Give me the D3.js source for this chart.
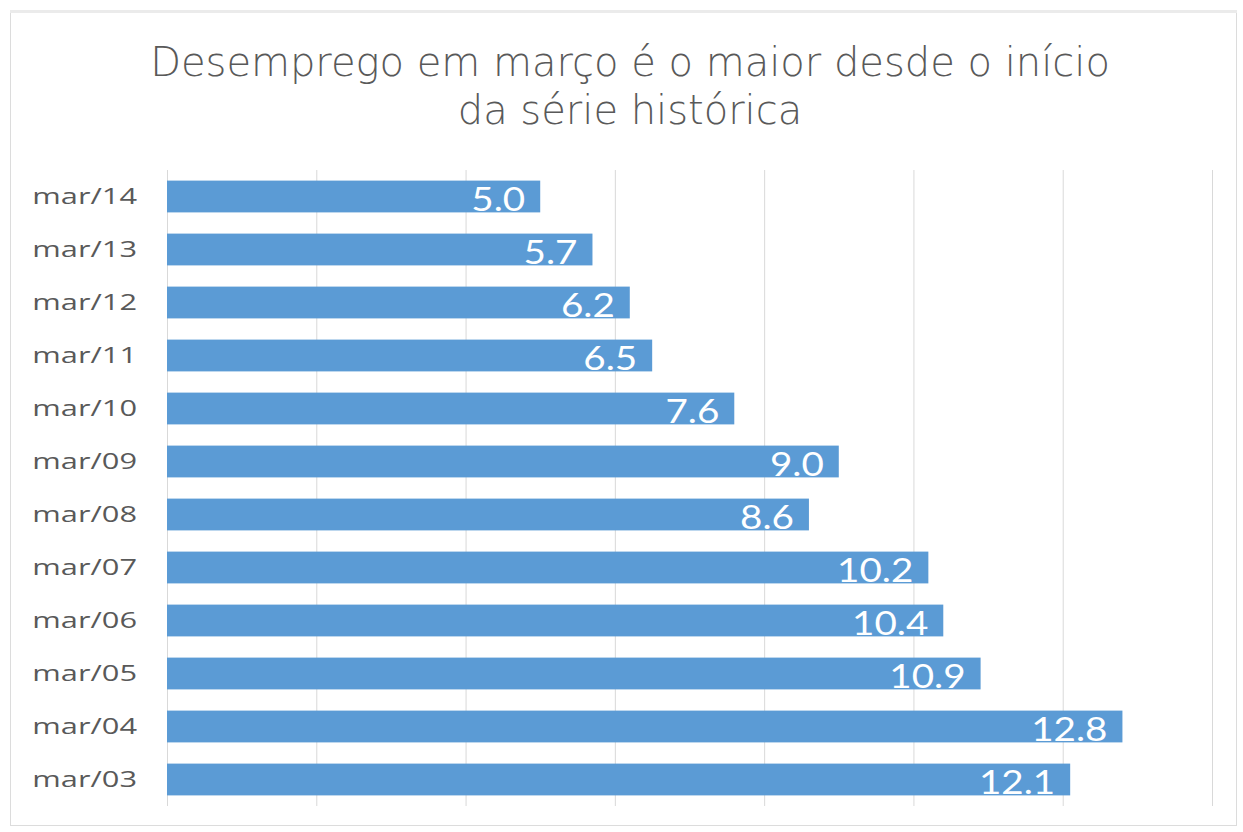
<!DOCTYPE html>
<html><head><meta charset="utf-8">
<script src="https://cdn.jsdelivr.net/npm/d3@7"></script>
<style>body{margin:0;background:#fff}svg{display:block}</style>
</head><body>
<svg id="c" width="1243" height="832"></svg>
<script>
const categories = ["mar/14","mar/13","mar/12","mar/11","mar/10","mar/09","mar/08","mar/07","mar/06","mar/05","mar/04","mar/03"];
const values = [5.0,5.7,6.2,6.5,7.6,9.0,8.6,10.2,10.4,10.9,12.8,12.1];
const xTicks = [0,2,4,6,8,10,12,14];
const titleLines = ["Desemprego em março é o maior desde o início","da série histórica"];

const svg = d3.select("#c");
svg.append("rect").attr("x",10.5).attr("y",11.5).attr("width",1226).attr("height",814)
  .attr("fill","#fff").attr("stroke","#dcdcdc").attr("stroke-width",1);
svg.append("line").attr("x1",10).attr("x2",1237).attr("y1",11.5).attr("y2",11.5)
  .attr("stroke","#ebebeb").attr("stroke-width",3);

const x = d3.scaleLinear().domain([0,14]).range([167,1212]);
const y = d3.scaleBand().domain(categories).range([170,806]).paddingInner(0.4).paddingOuter(0.2);

svg.append("g").selectAll("line").data(xTicks).join("line")
  .attr("x1",d=>x(d)+0.5).attr("x2",d=>x(d)+0.5).attr("y1",170).attr("y2",806)
  .attr("stroke","#d9d9d9").attr("stroke-width",1);

svg.append("g").selectAll("rect").data(values).join("rect")
  .attr("x",x(0)).attr("y",(d,i)=>y(categories[i])).attr("width",d=>x(d)-x(0))
  .attr("height",y.bandwidth()).attr("fill","#5b9bd5");

svg.append("g").selectAll("text").data(values).join("text")
  .attr("transform",(d,i)=>`translate(${x(d)-15},${y(categories[i])+y.bandwidth()-1.5}) scale(1.17,1)`)
  .attr("text-anchor","end").attr("fill","#fff")
  .style("font-family","Lato, 'Open Sans', sans-serif").style("font-size","33px")
  .text(d=>d.toFixed(1));

svg.append("g").selectAll("text").data(categories).join("text")
  .attr("transform",d=>`translate(137,${y(d)+y.bandwidth()/2}) scale(1.4,1)`).attr("dy","0.35em")
  .attr("text-anchor","end").attr("fill","#595959")
  .style("font-family","'Open Sans', sans-serif").style("font-size","22px")
  .text(d=>d);

svg.append("g").selectAll("text").data(titleLines).join("text")
  .attr("x",630).attr("y",(d,i)=>76+i*48).attr("text-anchor","middle").attr("fill","#595959")
  .style("font-family","'DejaVu Sans', sans-serif").style("font-weight","200").style("font-size","40px")
  .text(d=>d);
</script>
</body></html>
